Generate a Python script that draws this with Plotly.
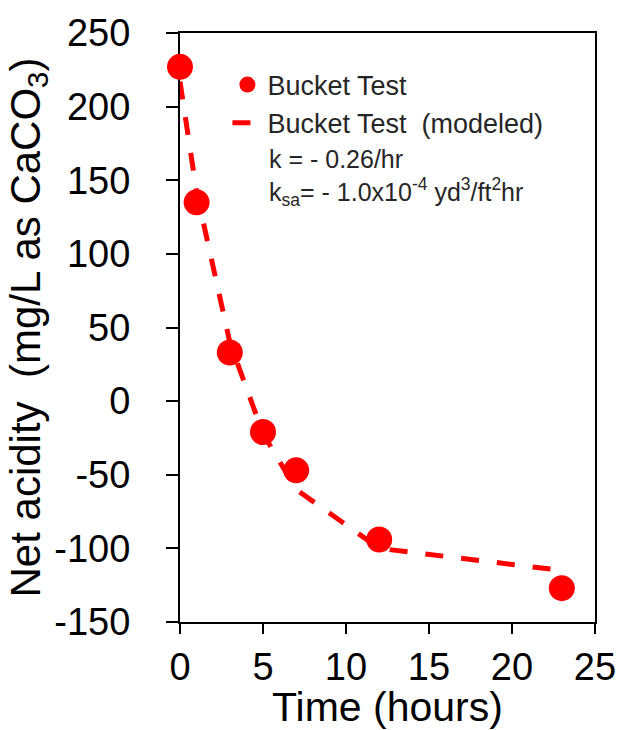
import plotly.graph_objects as go

# Measured data
time_h = [0, 1, 3, 5, 7, 12, 23]
net_acidity = [227, 135, 33, -21, -47, -94, -127]

# Modeled curve
model_time = [0, 1, 3, 5, 7, 12, 23]
model_acidity = [217, 142, 40, -22, -60, -100, -115]

x_ticks = [0, 5, 10, 15, 20, 25]
y_ticks = [-150, -100, -50, 0, 50, 100, 150, 200, 250]
y_tick_text = ["-150", "-100", "-50", "0", "50", "100", "150", "200", "250"]

RED = "#FF0000"
FONT = "Liberation Sans, Arial, sans-serif"
TXT = "#262626"

fig = go.Figure()
fig.add_trace(go.Scatter(
    x=time_h, y=net_acidity, mode="markers", name="Bucket Test",
    marker=dict(color=RED, size=26), cliponaxis=False,
))
fig.add_trace(go.Scatter(
    x=model_time, y=model_acidity, mode="lines", name="Bucket Test  (modeled)",
    line=dict(color=RED, width=5, dash="18px,18px"), cliponaxis=False,
))

fig.add_annotation(
    xref="paper", yref="paper", x=(268 - 180) / 420, y=1 - (174 - 27) / 600,
    xanchor="left", yanchor="middle", showarrow=False, align="left",
    text="k = - 0.26/hr<br>k<sub>sa</sub>= - 1.0x10<sup>-4</sup> yd<sup>3</sup>/ft<sup>2</sup>hr",
    font=dict(family=FONT, size=25, color=TXT),
)

fig.update_layout(
    width=628, height=730,
    margin=dict(l=180, r=28, t=27, b=103),
    paper_bgcolor="white", plot_bgcolor="white",
    font=dict(family=FONT, color="black"),
    showlegend=True,
    legend=dict(
        x=(228 - 180) / 420, y=1 - (55 - 27) / 600, xanchor="left", yanchor="top",
        bgcolor="rgba(0,0,0,0)", font=dict(family=FONT, size=27, color=TXT),
        tracegroupgap=0, itemwidth=30,
    ),
    xaxis=dict(
        range=[0, 25], tickvals=x_ticks, ticks="outside", ticklen=10, tickwidth=2,
        tickcolor="black", showline=True, linewidth=2, linecolor="black", mirror=True,
        showgrid=False, zeroline=False, tickfont=dict(size=38, color="black"),
        title=dict(text="Time (hours)", font=dict(size=41, color="black"), standoff=2),
        layer="below traces",
    ),
    yaxis=dict(
        range=[-150, 250], tickvals=y_ticks, ticktext=y_tick_text, ticks="outside",
        ticklen=12, tickwidth=2,
        tickcolor="black", showline=True, linewidth=2, linecolor="black", mirror=True,
        showgrid=False, zeroline=False, tickfont=dict(size=38, color="black"),
        ticklabelstandoff=28,
        title=dict(text="Net acidity  (mg/L as CaCO<sub>3</sub>)", font=dict(size=42, color="black"), standoff=0),
        layer="below traces",
    ),
)

fig.write_html("out.html")
